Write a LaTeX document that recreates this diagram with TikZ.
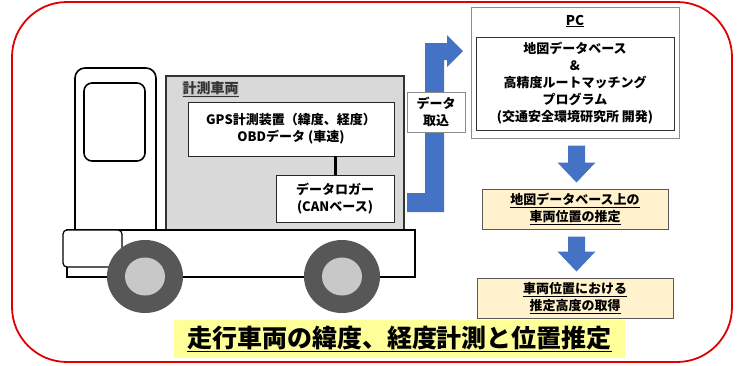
\documentclass[tikz,border=0pt]{standalone}
\usepackage{fontspec}
\newfontfamily\cjk{Noto Sans CJK JP}
\usetikzlibrary{arrows.meta,positioning,calc}
\definecolor{frameRed}{HTML}{E00000}
\definecolor{flowBlue}{HTML}{4472C4}
\definecolor{cargoGray}{HTML}{D9D9D9}
\definecolor{tyreGray}{HTML}{575757}
\definecolor{hubGray}{HTML}{C8C8C8}
\definecolor{stepFill}{HTML}{FFF2CC}
\definecolor{titleFill}{HTML}{FFFF99}

\begin{document}
\begin{tikzpicture}[x=1pt, y=-1pt,
  txt/.style={font=\cjk\bfseries\fontsize{13}{17}\selectfont, align=center},
  unit/.style={txt, draw=black!85, line width=0.9pt, fill=white, inner sep=0pt},
  pcbox/.style={draw=black!45, line width=1pt, fill=white, inner sep=0pt},
  stepbox/.style={txt, draw=black!65, line width=1pt, fill=stepFill, inner sep=0pt},
  tyre/.style={fill=tyreGray, draw=none},
  hub/.style={fill=hubGray, draw=none}
]
  \useasboundingbox (0,0) rectangle (740,365);
  % outer frame
  \draw[frameRed, line width=1.8pt, rounded corners=55pt] (12,2) rectangle (732,362);

  % truck: cab, cargo box, chassis, wheels
  \draw[line width=1.6pt, rounded corners=10pt, fill=white] (75,232) -- (75,68) -- (156,68) -- (156,232);
  \draw[line width=1.6pt, rounded corners=8pt] (84,83) rectangle (145,161);
  \node[draw=black!80, line width=1.2pt, fill=cargoGray, minimum width=238pt, minimum height=154pt,
        inner sep=0pt] (cargo) at (285,153) {};
  \node[font=\cjk\bfseries\fontsize{14}{16}\selectfont, text=black!80, fill=black!20, anchor=west,
        inner sep=0.5pt] (cargotag) at (182,89.5) {\underline{計測車両}};
  \draw[line width=1.2pt, fill=white] (67,230) rectangle (415,277);
  \draw[line width=1.2pt, fill=white, rounded corners=4pt] (63,230) rectangle (122,267);
  \foreach \wx in {145,342} {
    \fill[tyre] (\wx,276.5) ellipse [x radius=38, y radius=36.5];
    \fill[hub] (\wx,276.5) ellipse [x radius=20, y radius=19];
  }

  % on-board units
  \node[unit, minimum width=206pt, minimum height=54pt] (gps) at (291,129)
    {GPS計測装置（緯度、経度）\\OBDデータ (車速)};
  \node[unit, minimum width=118pt, minimum height=47pt] (logger) at (335,198.5)
    {データロガー\\(CANベース)};
  \draw[line width=3pt] (logger.north) -- (logger.north |- gps.south);

  % data transfer arrow
  \fill[flowBlue] (407,193) -- (425,193) -- (425,43) -- (447,43) -- (447,35) -- (463,51)
    -- (447,67) -- (447,60) -- (444,60) -- (444,212) -- (407,212) -- cycle;
  \node[txt, draw=black!45, line width=1pt, fill=white, minimum width=58pt, minimum height=40pt,
        inner sep=0pt] (feed) at (436,112) {データ\\取込};

  % PC side
  \node[pcbox, minimum width=208pt, minimum height=131pt] (pc) at (575,72.5) {};
  \node[txt, font=\cjk\bfseries\fontsize{13.5}{17}\selectfont] (pctag) at (575,21) {\underline{PC}};
  \node[unit, draw=black!80, minimum width=198pt, minimum height=93pt] (prog) at (575,83.5)
    {地図データベース\\\&\\高精度ルートマッチング\\プログラム\\(交通安全環境研究所 開発)};
  \node[stepbox, minimum width=186pt, minimum height=40pt] (locate) at (575,209)
    {\underline{地図データベース上の}\\\underline{車両位置の推定}};
  \node[stepbox, minimum width=196pt, minimum height=40pt] (height) at (575,298)
    {\underline{車両位置における}\\\underline{推定高度の取得}};
  \foreach \a/\b in {pc/locate,locate/height} {
    \path ($(\a.south)+(1.5,7)$) coordinate (top) ($(\b.north)+(1.5,-6)$) coordinate (tip);
    \fill[flowBlue] ($(top)+(-8.5,0)$) -- ($(top)+(8.5,0)$) -- ($(tip)+(8.5,-20)$)
      -- ($(tip)+(19,-20)$) -- (tip) -- ($(tip)+(-19,-20)$) -- ($(tip)+(-8.5,-20)$) -- cycle;
  }

  % caption
  \node[fill=titleFill, minimum width=451pt, minimum height=38pt, inner sep=0pt,
        font=\cjk\bfseries\fontsize{25}{28}\selectfont] (title) at (399.5,339)
    {\underline{走行車両の緯度、経度計測と位置推定}};
\end{tikzpicture}
\end{document}
